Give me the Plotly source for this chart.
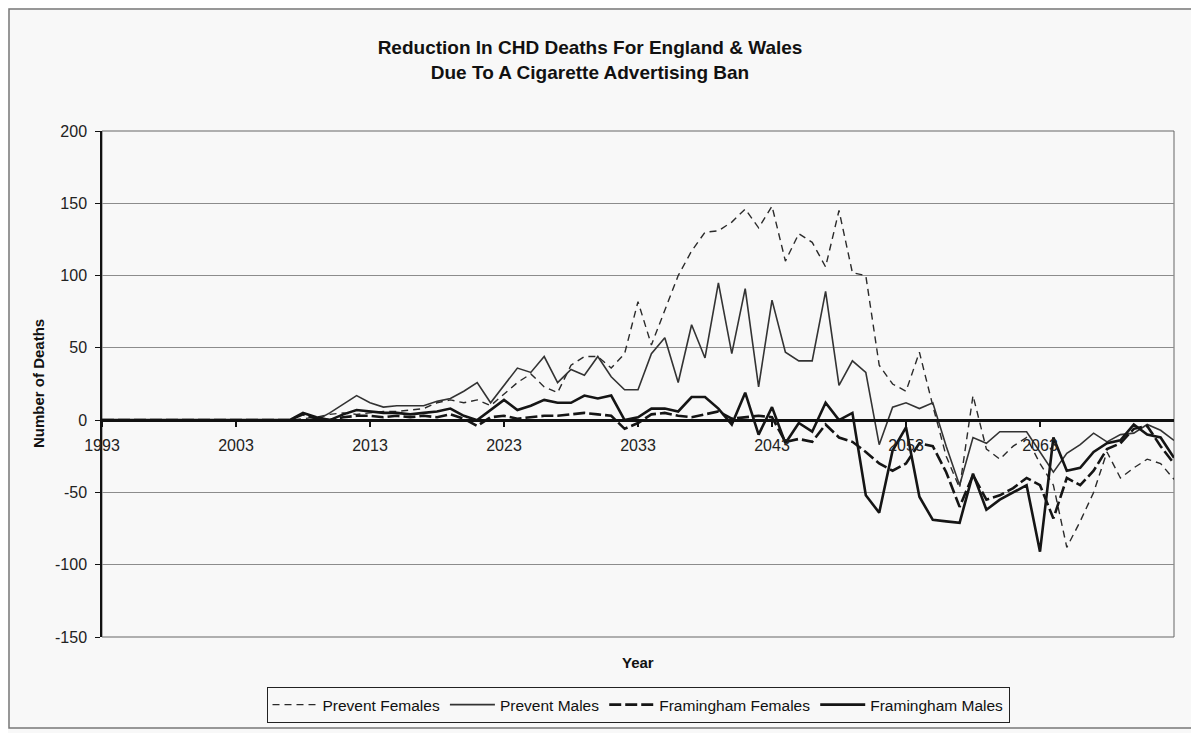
import plotly.graph_objects as go

years = list(range(1993, 2074))

prevent_females = [0]*15 + [
    1, 2, 4, 5, 4, 5, 6, 6, 7, 8,
    12, 14, 12, 14, 10, 18, 26, 32, 23, 19,
    38, 44, 44, 36, 46, 82, 52, 76, 100, 117,
    130, 131, 137, 146, 133, 148, 110, 129, 123, 106,
    145, 102, 100, 38, 25, 20, 47, 10, -25, -47,
    17, -20, -27, -18, -12, -30, -45, -88, -70, -50,
    -22, -40, -33, -27, -30, -41]

prevent_males = [0]*17 + [
    5, 11, 17, 12, 9, 10, 10, 10, 13, 15,
    20, 26, 12, 24, 36, 33, 44, 26, 35, 31,
    44, 30, 21, 21, 46, 57, 26, 66, 43, 95,
    46, 91, 23, 83, 47, 41, 41, 89, 24, 41,
    33, -17, 9, 12, 8, 12, -18, -45, -12, -16,
    -8, -8, -8, -22, -36, -23, -17, -9, -15, -10,
    -9, -3, -7, -14]

framingham_females = [0]*15 + [
    4, 1, 0, 2, 3, 3, 2, 3, 2, 3,
    2, 4, 1, -4, 2, 3, 1, 2, 3, 3,
    4, 5, 4, 3, -6, -2, 4, 5, 3, 2,
    4, 6, 1, 2, 3, 2, -15, -13, -15, -3,
    -12, -15, -22, -30, -35, -30, -16, -18, -36, -60,
    -38, -55, -52, -47, -40, -45, -68, -40, -45, -35,
    -20, -16, -6, -4, -18, -30]

framingham_males = [0]*15 + [
    5, 2, 0, 4, 7, 6, 5, 5, 4, 5,
    6, 8, 3, 0, 7, 14, 7, 10, 14, 12,
    12, 17, 15, 17, 0, 2, 8, 8, 6, 16,
    16, 8, -3, 19, -10, 9, -16, -2, -8, 12,
    0, 5, -52, -64, -21, -5, -53, -69, -70, -71,
    -37, -62, -55, -50, -45, -91, -12, -35, -33, -22,
    -16, -14, -3, -10, -12, -26]

tick_years = [1993, 2003, 2013, 2023, 2033, 2043, 2053, 2063]
tick_labels = [str(y) for y in tick_years]
y_ticks = [-150, -100, -50, 0, 50, 100, 150, 200]
y_tick_labels = ["-150", "-100", "-50", "0", "50", "100", "150", "200"]

FONT = "Liberation Sans, Arial, sans-serif"
BG = "#f8f8f8"

# figure is drawn inside the page's 8px body margin
W, H = 1191, 725
L, R, T, B = 94, 25, 123, 96
PW, PH = W - L - R, H - T - B   # plot area size in px


def py(px_y):
    """figure pixel y -> paper coordinate"""
    return (H - B - px_y) / PH


def px(px_x):
    """figure pixel x -> paper coordinate"""
    return (px_x - L) / PW


fig = go.Figure()
fig.add_trace(go.Scatter(x=years, y=prevent_females, mode="lines", name="Prevent Females",
                         line=dict(color="#2a2a2a", width=1.4, dash="7px,5px")))
fig.add_trace(go.Scatter(x=years, y=prevent_males, mode="lines", name="Prevent Males",
                         line=dict(color="#333333", width=1.6)))
fig.add_trace(go.Scatter(x=years, y=framingham_females, mode="lines", name="Framingham Females",
                         line=dict(color="#151515", width=2.6, dash="12px,4px")))
fig.add_trace(go.Scatter(x=years, y=framingham_males, mode="lines", name="Framingham Males",
                         line=dict(color="#151515", width=2.6)))

fig.update_layout(
    width=W, height=H,
    margin=dict(l=L, r=R, t=T, b=B, autoexpand=False),
    paper_bgcolor=BG, plot_bgcolor=BG,
    font=dict(family=FONT, color="#1a1a1a", size=14),
    title=dict(text="<b>Reduction In CHD Deaths For England &amp; Wales<br>Due To A Cigarette Advertising Ban</b>",
               x=582 / W, xanchor="center", xref="container",
               y=1 - 46 / H, yanchor="middle", yref="container",
               font=dict(family=FONT, size=19, color="#111")),
    xaxis=dict(range=[1993, 2073], anchor="free", position=3/7,
               showline=True, linecolor="#111", linewidth=3,
               tickmode="array", tickvals=tick_years, ticktext=tick_labels,
               ticks="outside", ticklen=5, tickwidth=2, tickcolor="#111",
               ticklabelstandoff=5,
               showgrid=False, zeroline=False,
               tickfont=dict(family=FONT, size=16, color="#222")),
    yaxis=dict(range=[-150, 200], tickmode="array", tickvals=y_ticks, ticktext=y_tick_labels,
               showline=True, linecolor="#111", linewidth=1.5,
               ticks="outside", ticklen=5, tickcolor="#111",
               ticklabelstandoff=5,
               showgrid=True, gridcolor="#8c8c8c", gridwidth=1,
               zeroline=False,
               tickfont=dict(family=FONT, size=16, color="#222")),
    legend=dict(orientation="h", x=0.5, xanchor="center", y=py(697), yanchor="middle",
                bordercolor="#222", borderwidth=1, bgcolor=BG,
                font=dict(family=FONT, size=15.5, color="#111"),
                itemwidth=45, tracegroupgap=0),
    showlegend=True,
)

# Plot-area border and outer chart border
fig.add_shape(type="rect", xref="paper", yref="paper", x0=0, x1=1, y0=0, y1=1,
              line=dict(color="#666", width=1), layer="below")
fig.add_shape(type="rect", xref="paper", yref="paper",
              x0=px(1), x1=px(1188), y0=py(720), y1=py(1),
              line=dict(color="#777", width=1.5))

fig.add_annotation(text="<b>Year</b>", xref="paper", yref="paper", x=0.5, y=py(654),
                   showarrow=False, xanchor="center", yanchor="middle",
                   font=dict(family=FONT, size=15, color="#111"))
fig.add_annotation(text="<b>Number of Deaths</b>", xref="paper", yref="paper",
                   x=px(30), y=0.5, textangle=-90,
                   showarrow=False, xanchor="center", yanchor="middle",
                   font=dict(family=FONT, size=15, color="#111"))

fig.write_html("out.html")
